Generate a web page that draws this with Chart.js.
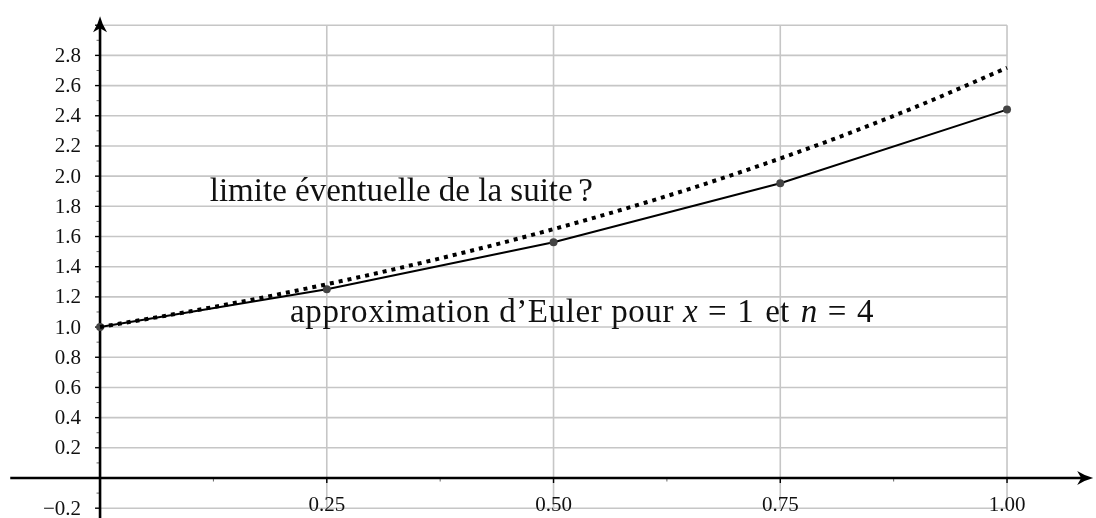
<!DOCTYPE html>
<html>
<head>
<meta charset="utf-8">
<script src="https://cdn.jsdelivr.net/npm/chart.js@4"></script>
<style>
  body { margin: 0; background: #fff; }
  #wrap { width: 1096px; height: 518px; }
</style>
</head>
<body>
<div id="wrap"><canvas id="myChart" width="1096" height="518"></canvas></div>
<script>
// euler approximation, n = 4
var eulerX = [0, 0.25, 0.5, 0.75, 1.0];
var eulerY = [1.0, 1.25, 1.5625, 1.953, 2.441];

// dotted curve (the limit)
var limitX = [0, 0.1, 0.2, 0.3, 0.4, 0.5, 0.6, 0.7, 0.8, 0.9, 1.0];
var limitY = [1.0, 1.105, 1.221, 1.35, 1.492, 1.649, 1.822, 2.014, 2.226, 2.46, 2.718];

// ticks
var yTicks = [-0.2, 0.2, 0.4, 0.6, 0.8, 1.0, 1.2, 1.4, 1.6, 1.8, 2.0, 2.2, 2.4, 2.6, 2.8];
var yTickLabels = ['\u22120.2', '0.2', '0.4', '0.6', '0.8', '1.0', '1.2', '1.4', '1.6', '1.8', '2.0', '2.2', '2.4', '2.6', '2.8'];
var xTicks = [0.25, 0.5, 0.75, 1.0];
var xTickLabels = ['0.25', '0.50', '0.75', '1.00'];
var xMinor = [0.125, 0.375, 0.625, 0.875];

// grid
var gridX = [0.25, 0.5, 0.75, 1.0];
var gridY = [-0.2, 0, 0.2, 0.4, 0.6, 0.8, 1.0, 1.2, 1.4, 1.6, 1.8, 2.0, 2.2, 2.4, 2.6, 2.8, 3.0];

const serif = '"Liberation Serif", "DejaVu Serif", serif';

function pts(xs, ys) {
    return xs.map(function (x, i) { return { x: x, y: ys[i] }; });
}

// arrow head, tip at (x,y), pointing in direction angle
function arrowHead(ctx, x, y, angle) {
    ctx.save();
    ctx.translate(x, y);
    ctx.rotate(angle);
    ctx.beginPath();
    ctx.moveTo(0, 0);
    ctx.quadraticCurveTo(-8, 2, -16, 7);
    ctx.lineTo(-12, 0);
    ctx.lineTo(-16, -7);
    ctx.quadraticCurveTo(-8, -2, 0, 0);
    ctx.closePath();
    ctx.fillStyle = '#000';
    ctx.fill();
    ctx.restore();
}

const backdrop = {
    id: 'backdrop',
    beforeDatasetsDraw(chart) {
        const ctx = chart.ctx;
        const xs = chart.scales.x, ys = chart.scales.y;
        const px = function (v) { return xs.getPixelForValue(v); };
        const py = function (v) { return ys.getPixelForValue(v); };
        ctx.save();

        // grid
        ctx.strokeStyle = '#c6c6c6';
        ctx.lineWidth = 1.6;
        gridY.forEach(function (v) {
            ctx.beginPath();
            ctx.moveTo(px(0), py(v));
            ctx.lineTo(px(1.0), py(v));
            ctx.stroke();
        });
        gridX.forEach(function (v) {
            ctx.beginPath();
            ctx.moveTo(px(v), py(-0.2));
            ctx.lineTo(px(v), py(3.0));
            ctx.stroke();
        });

        // minor ticks
        ctx.strokeStyle = '#666';
        ctx.lineWidth = 1;
        for (var k = -3; k <= 29; k += 2) {
            var yv = k / 10;
            ctx.beginPath();
            ctx.moveTo(px(0) - 3.5, py(yv));
            ctx.lineTo(px(0), py(yv));
            ctx.stroke();
        }
        xMinor.forEach(function (v) {
            ctx.beginPath();
            ctx.moveTo(px(v), py(0));
            ctx.lineTo(px(v), py(0) + 3.5);
            ctx.stroke();
        });
        // major ticks
        ctx.strokeStyle = '#000';
        ctx.lineWidth = 1.4;
        yTicks.concat([3.0]).forEach(function (v) {
            ctx.beginPath();
            ctx.moveTo(px(0) - 5, py(v));
            ctx.lineTo(px(0), py(v));
            ctx.stroke();
        });
        xTicks.forEach(function (v) {
            ctx.beginPath();
            ctx.moveTo(px(v), py(0));
            ctx.lineTo(px(v), py(0) + 5);
            ctx.stroke();
        });

        // axes
        ctx.strokeStyle = '#000';
        ctx.lineWidth = 2.6;
        ctx.beginPath();
        ctx.moveTo(px(-0.099), py(0));
        ctx.lineTo(px(1.085), py(0));
        ctx.stroke();
        ctx.beginPath();
        ctx.moveTo(px(0), ys.bottom);
        ctx.lineTo(px(0), py(2.99));
        ctx.stroke();
        arrowHead(ctx, px(1.095), py(0), 0);
        arrowHead(ctx, px(0), py(3.06), -Math.PI / 2);

        // tick labels
        ctx.fillStyle = '#111';
        ctx.font = '21px ' + serif;
        ctx.textAlign = 'right';
        ctx.textBaseline = 'middle';
        yTicks.forEach(function (v, i) {
            ctx.fillText(yTickLabels[i], px(0) - 19, py(v) + 1);
        });
        ctx.textAlign = 'center';
        xTicks.forEach(function (v, i) {
            ctx.fillText(xTickLabels[i], px(v), py(0) + 27);
        });
        ctx.restore();
    },
    afterDraw(chart) {
        const ctx = chart.ctx;
        const xs = chart.scales.x, ys = chart.scales.y;
        ctx.save();
        ctx.fillStyle = '#111';
        ctx.textBaseline = 'alphabetic';
        ctx.textAlign = 'left';
        var em = 33;
        notes.forEach(function (n) {
            var x = xs.getPixelForValue(n.x);
            var y = ys.getPixelForValue(n.y);
            n.parts.forEach(function (p) {
                if (p.gap) { x += p.gap * em; return; }
                ctx.font = (p.it ? 'italic ' : '') + em + 'px ' + serif;
                ctx.letterSpacing = p.ls ? p.ls + 'px' : '0px';
                ctx.fillText(p.t, x, y);
                x += ctx.measureText(p.t).width;
            });
        });
        ctx.restore();
    }
};

var notes = [
    { x: 0.121, y: 1.835, parts: [{ t: 'limite \u00e9ventuelle de la suite' }, { gap: 0.17 }, { t: '?' }] },
    { x: 0.2095, y: 1.035, parts: [
        { t: 'approximation d\u2019Euler pour ', ls: 0.6 },
        { t: 'x', it: true }, { gap: 0.32 },
        { t: '=' }, { gap: 0.32 },
        { t: '1' }, { gap: 0.35 },
        { t: 'et' }, { gap: 0.35 },
        { t: 'n', it: true }, { gap: 0.32 },
        { t: '=' }, { gap: 0.32 },
        { t: '4' }
    ] }
];

const data = {
    datasets: [
        {
            label: 'limite',
            data: pts(limitX, limitY),
            showLine: true,
            borderColor: '#000',
            borderWidth: 4,
            borderDash: [4, 5],
            pointRadius: 0,
            cubicInterpolationMode: 'monotone',
            fill: false
        },
        {
            label: 'Euler',
            data: pts(eulerX, eulerY),
            showLine: true,
            borderColor: '#000',
            borderWidth: 2,
            pointRadius: 4,
            pointBackgroundColor: '#444',
            pointBorderColor: '#444',
            pointBorderWidth: 0,
            fill: false
        }
    ]
};

const config = {
    type: 'scatter',
    data: data,
    options: {
        responsive: false,
        animation: false,
        layout: { padding: 0, autoPadding: false },
        plugins: { legend: { display: false }, tooltip: { enabled: false } },
        scales: {
            x: { type: 'linear', display: false, min: -0.1103, max: 1.0981 },
            y: { type: 'linear', display: false, min: -0.265, max: 3.167 }
        }
    },
    plugins: [backdrop]
};

var myChart = new Chart(document.getElementById('myChart'), config);
</script>
</body>
</html>
